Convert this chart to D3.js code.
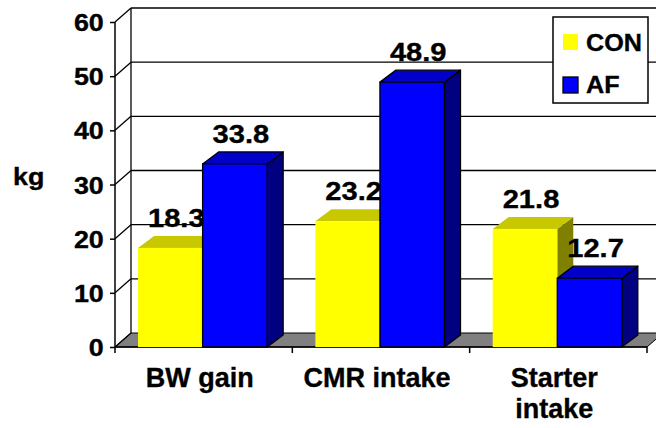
<!DOCTYPE html>
<html>
<head>
<meta charset="utf-8">
<style>
    body { margin: 0; background: #fff; }
    svg { display: block; font-family: "Liberation Sans", Arial, sans-serif; font-weight: bold; }
    text { fill: #000; stroke: #000; stroke-width: 0.35px; }
    .tick-label { font-size: 24px; }
    .value-label { font-size: 26px; }
    .cat-label { font-size: 27px; }
    .legend-label { font-size: 24px; }
</style>
</head>
<body>
<svg width="656" height="428"></svg>
<script src="https://d3js.org/d3.v7.min.js"></script>
<script>
// data
let categories = ["BW gain", "CMR intake", "Starter intake"]
let seriesNames = ["CON", "AF"]
let conValues = [18.3, 23.2, 21.8]
let afValues = [33.8, 48.9, 12.7]
let yTicks = [0, 10, 20, 30, 40, 50, 60]
let yLabel = "kg"

let colors = {
    CON: { front: "#ffff00", top: "#c8c800", side: "#808000", stroke: "none" },
    AF: { front: "#0000ff", top: "#0000c8", side: "#000080", stroke: "#000" }
}

let rows = categories.map((c, i) => ({ cat: c, CON: conValues[i], AF: afValues[i] }))

let svg = d3.select("svg")
let margin = { top: 22, bottom: 81, left: 115, right: 9 }
let W = 656, H = 428
let wall = { dx: 16, dy: 14 }   // depth of the back wall
let bar = { dx: 16, dy: 12 }    // depth of the bars
let stretch = 1.12              // the reference text is drawn a bit wide

let x0 = d3.scaleBand().domain(categories).range([margin.left, W - margin.right])
let bw = x0.bandwidth()
let x1 = d3.scaleBand().domain(seriesNames).range([bw * 0.13, bw * 0.858])
let y = d3.scaleLinear().domain([0, 60]).range([H - margin.bottom, margin.top])

let yTop = y(60), yBot = y(0)
let xL = margin.left, xR = W - margin.right

// floor
svg.append("path")
    .attr("d", `M${xL},${yBot}L${xR},${yBot}L${xR + wall.dx},${yBot - wall.dy}L${xL + wall.dx},${yBot - wall.dy}Z`)
    .attr("fill", "#808080")
    .attr("stroke", "#000")
    .attr("stroke-width", 1)

// back wall gridlines
svg.append("g")
    .selectAll("line")
    .data(yTicks.filter(d => d > 0))
    .join("line")
    .attr("x1", xL + wall.dx).attr("x2", xR + wall.dx)
    .attr("y1", d => y(d) - wall.dy).attr("y2", d => y(d) - wall.dy)
    .attr("stroke", "#000").attr("stroke-width", 1.3)

// side wall
svg.append("line")
    .attr("x1", xL + wall.dx).attr("x2", xL + wall.dx)
    .attr("y1", yTop - wall.dy).attr("y2", yBot - wall.dy)
    .attr("stroke", "#000").attr("stroke-width", 1.3)
svg.append("g")
    .selectAll("line")
    .data(yTicks)
    .join("line")
    .attr("x1", xL).attr("x2", xL + wall.dx)
    .attr("y1", d => y(d)).attr("y2", d => y(d) - wall.dy)
    .attr("stroke", "#000").attr("stroke-width", 1.3)

// front axes
svg.append("line")
    .attr("x1", xL).attr("x2", xL).attr("y1", yTop).attr("y2", yBot)
    .attr("stroke", "#000").attr("stroke-width", 1.5)
svg.append("line")
    .attr("x1", xL).attr("x2", xR).attr("y1", yBot).attr("y2", yBot)
    .attr("stroke", "#000").attr("stroke-width", 1.5)

let yAxis = svg.append("g")
    .attr("transform", `translate(${xL},0)`)
    .call(d3.axisLeft(y).tickValues(yTicks).tickSize(5).tickPadding(5))
yAxis.select(".domain").remove()
yAxis.selectAll(".tick line").attr("stroke", "#000").attr("stroke-width", 1.5)
yAxis.selectAll(".tick text")
    .attr("class", "tick-label")
    .attr("fill", null)
    .attr("transform", `scale(${stretch},1)`)
    .attr("dy", "0.36em")
yAxis.attr("font-family", null).attr("font-size", null)

// category boundary ticks
svg.append("g")
    .selectAll("line")
    .data(categories.map(c => x0(c)).concat([xR]))
    .join("line")
    .attr("x1", d => d).attr("x2", d => d)
    .attr("y1", yBot).attr("y2", yBot + 6)
    .attr("stroke", "#000").attr("stroke-width", 1.5)

// bars (drawn left to right so sides overlap correctly)
let bars = []
rows.forEach(r => seriesNames.forEach(s => bars.push({ cat: r.cat, key: s, value: r[s] })))

let barG = svg.append("g")
bars.forEach(d => {
    let bx = x0(d.cat) + x1(d.key)
    let w = x1.bandwidth()
    let ty = y(d.value)
    let c = colors[d.key]
    let g = barG.append("g")
        .attr("stroke", c.stroke).attr("stroke-width", 1.3).attr("stroke-linejoin", "round")
    // side
    g.append("path")
        .attr("d", `M${bx + w},${yBot}L${bx + w + bar.dx},${yBot - bar.dy}L${bx + w + bar.dx},${ty - bar.dy}L${bx + w},${ty}Z`)
        .attr("fill", c.side)
    // top
    g.append("path")
        .attr("d", `M${bx},${ty}L${bx + bar.dx},${ty - bar.dy}L${bx + w + bar.dx},${ty - bar.dy}L${bx + w},${ty}Z`)
        .attr("fill", c.top)
    // front
    g.append("rect")
        .attr("x", bx).attr("y", ty).attr("width", w).attr("height", yBot - ty)
        .attr("fill", c.front)
})

// value labels
svg.append("g")
    .selectAll("text")
    .data(bars)
    .join("text")
    .attr("class", "value-label")
    .attr("transform", d => `translate(${x0(d.cat) + x1(d.key) + x1.bandwidth() / 2 + 6},${y(d.value) - 21}) scale(${stretch},1)`)
    .attr("text-anchor", "middle")
    .text(d => d.value.toFixed(1))

// category labels, wrapped when too wide for the band
let catG = svg.append("g")
categories.forEach(c => {
    let t = catG.append("text")
        .attr("class", "cat-label")
        .attr("text-anchor", "middle")
        .attr("x", x0(c) + bw / 2 - 4)
        .attr("y", yBot + 40)
    t.text(c)
    if (t.node().getComputedTextLength() > 160) {
        let words = c.split(" ")
        t.text(null)
        words.forEach((w, i) => {
            t.append("tspan")
                .attr("x", x0(c) + bw / 2 - 4)
                .attr("dy", i == 0 ? 0 : 31)
                .text(w)
        })
    }
})

// y label
svg.append("text")
    .attr("transform", `translate(13,185) scale(${stretch},1)`)
    .attr("font-size", 24)
    .text(yLabel)

// legend
let leg = svg.append("g").attr("transform", "translate(553,17)")
leg.append("rect")
    .attr("width", 95).attr("height", 86)
    .attr("fill", "#fff").attr("stroke", "#000").attr("stroke-width", 1.5)
seriesNames.forEach((s, i) => {
    let c = colors[s]
    leg.append("rect")
        .attr("x", 10).attr("y", 17 + i * 43)
        .attr("width", 15).attr("height", 16)
        .attr("fill", c.front).attr("stroke", c.stroke).attr("stroke-width", 1.3)
    leg.append("text")
        .attr("class", "legend-label")
        .attr("transform", `translate(33,${34 + i * 42}) scale(1.05,1)`)
        .text(s)
})
</script>
</body>
</html>
